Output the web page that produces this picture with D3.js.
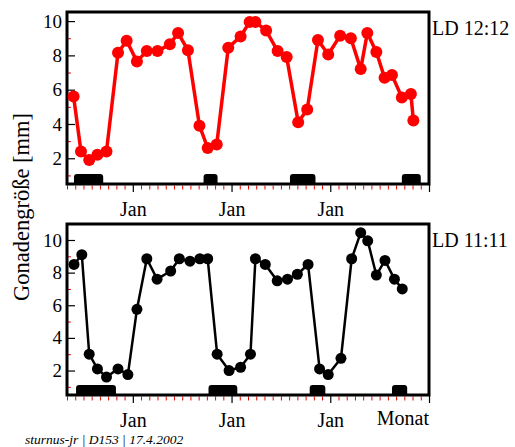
<!DOCTYPE html>
<html><head><meta charset="utf-8">
<script src="https://cdn.jsdelivr.net/npm/d3@7"></script>
<style>body{margin:0;background:#fff}svg{display:block}</style>
</head><body>
<script>
// Months counted from the left edge of the axis (Jan at 8, 20, 32, 44)
const monthsTop = [0.8,1.7,2.7,3.7,4.8,6.2,7.25,8.5,9.7,11.0,12.5,13.5,14.7,16.1,17.1,18.2,19.6,21.1,22.2,22.9,24.2,25.6,26.7,28.1,29.2,30.5,31.75,33.2,34.5,35.7,36.5,37.6,38.6,39.5,40.7,41.8,42.1];
const valuesTop = [5.6,2.4,1.9,2.2,2.4,8.15,8.85,7.65,8.25,8.25,8.65,9.3,8.3,3.9,2.6,2.8,8.45,9.1,9.95,9.95,9.45,8.25,7.9,4.1,4.85,8.9,8.05,9.15,9.0,7.2,9.3,8.2,6.7,6.85,5.55,5.75,4.2];
const monthsBottom = [0.85,1.8,2.7,3.7,4.8,6.2,7.4,8.5,9.7,10.95,12.6,13.65,14.95,16.15,17.1,18.25,19.7,21.1,22.3,22.9,24.1,25.55,26.8,28.0,29.3,30.7,31.75,33.3,34.6,35.7,36.55,37.6,38.65,39.8,40.75];
const valuesBottom = [8.5,9.1,3.0,2.1,1.6,2.1,1.75,5.75,8.85,7.6,8.1,8.85,8.7,8.85,8.85,3.0,2.0,2.2,3.0,8.85,8.5,7.5,7.6,7.9,8.5,2.1,1.75,2.75,8.85,10.45,9.95,7.85,8.75,7.6,7.0];
// Dark-phase bars (start month, end month)
const barsTopStart = [0.85,16.6,27.1,40.7];
const barsTopEnd   = [4.4,18.3,30.2,43.0];
const barsBottomStart = [1.1,17.2,29.5,39.5];
const barsBottomEnd   = [5.95,20.7,31.4,41.35];
const yMajorTicks = [2,4,6,8,10];
const yMinorTicks = [1,3,5,7,9];
const janMonths = [8,20,32,44];
const janLabels = ["Jan","Jan","Jan"];
const panelLabels = ["LD 12:12","LD 11:11"];

const W = 515, H = 447;
const svg = d3.select("body").append("svg").attr("width", W).attr("height", H);
const font = "'Liberation Serif','Times New Roman',serif";
const x = d3.scaleLinear().domain([0,44]).range([67,429]);
const allMonths = d3.range(0,45);

function panel(top, bottom, ymax, months, values, bs, be, color, label, r, sw) {
  const y = d3.scaleLinear().domain([0.5, ymax]).range([bottom, top]);
  const g = svg.append("g");
  // bars
  g.selectAll("path.bar").data(bs.map((s,i)=>[s,be[i]])).join("path")
    .attr("d", d => {
      const x0 = x(d[0]), x1 = x(d[1]), y0 = bottom, y1 = bottom - 10, rr = 3;
      return `M${x0},${y0}V${y1+rr}Q${x0},${y1} ${x0+rr},${y1}H${x1-rr}Q${x1},${y1} ${x1},${y1+rr}V${y0}Z`;
    }).attr("fill","#000");
  // minor y ticks (red, inward)
  g.append("g").attr("transform",`translate(${x.range()[0]},0)`)
    .call(d3.axisLeft(y).tickValues(yMinorTicks).tickSize(-4).tickFormat(""))
    .call(a=>{a.select(".domain").remove(); a.selectAll("line").attr("stroke","#e00").attr("stroke-width",1);});
  // major y ticks
  g.append("g").attr("transform",`translate(${x.range()[0]},0)`)
    .call(d3.axisLeft(y).tickValues(yMajorTicks).tickSize(-8).tickPadding(5))
    .call(a=>{a.select(".domain").remove(); a.selectAll("line").attr("stroke","#000").attr("stroke-width",1.2);
      a.selectAll("text").attr("font-family",font).attr("font-size",19).attr("fill","#000").attr("x",-5);});
  // x minor ticks (red, outward)
  g.append("g").attr("transform",`translate(0,${bottom})`)
    .call(d3.axisBottom(x).tickValues(allMonths.filter(m=>!janMonths.includes(m))).tickSize(4).tickFormat(""))
    .call(a=>{a.select(".domain").remove(); a.selectAll("line").attr("stroke","#e00").attr("stroke-width",1).attr("transform","translate(0,1.5)");});
  // x major ticks
  g.append("g").attr("transform",`translate(0,${bottom})`)
    .call(d3.axisBottom(x).tickValues(janMonths).tickSize(8).tickPadding(10).tickFormat((d,i)=>janLabels[i]||""))
    .call(a=>{a.select(".domain").remove(); a.selectAll("line").attr("stroke","#000").attr("stroke-width",1.2);
      a.selectAll("text").attr("font-family",font).attr("font-size",20).attr("fill","#000");});
  // frame
  g.append("rect").attr("x",x.range()[0]).attr("y",top).attr("width",x.range()[1]-x.range()[0]).attr("height",bottom-top)
    .attr("fill","none").attr("stroke","#000").attr("stroke-width",3);
  // line
  const pts = months.map((m,i)=>[m,values[i]]);
  g.append("path").datum(pts).attr("d", d3.line().x(d=>x(d[0])).y(d=>y(d[1])))
    .attr("fill","none").attr("stroke",color).attr("stroke-width",sw).attr("stroke-linejoin","round");
  g.selectAll("circle").data(pts).join("circle").attr("cx",d=>x(d[0])).attr("cy",d=>y(d[1])).attr("r",r).attr("fill",color);
  // panel label
  g.append("text").attr("x",432).attr("y",top+23).attr("font-family",font).attr("font-size",20).text(label);
  return y;
}

panel(12, 184, 10.53, monthsTop, valuesTop, barsTopStart, barsTopEnd, "#f00", panelLabels[0], 6, 3.5);
panel(224, 395, 10.98, monthsBottom, valuesBottom, barsBottomStart, barsBottomEnd, "#000", panelLabels[1], 5.5, 2.5);

svg.append("text").attr("transform","translate(29,207) rotate(-90)").attr("text-anchor","middle")
  .attr("font-family",font).attr("font-size",22.5).text("Gonadengröße [mm]");
svg.append("text").attr("x",429).attr("y",425).attr("text-anchor","end")
  .attr("font-family",font).attr("font-size",20).text("Monat");
svg.append("text").attr("x",25).attr("y",444).attr("font-family",font).attr("font-style","italic")
  .attr("font-size",13.5).text("sturnus-jr | D153 | 17.4.2002");
</script>
</body></html>
